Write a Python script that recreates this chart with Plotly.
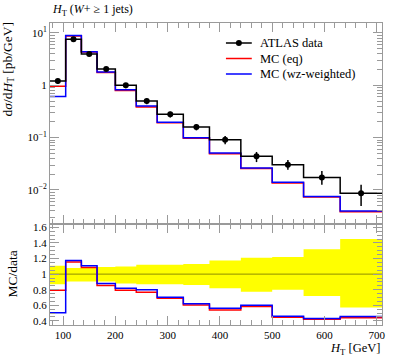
import plotly.graph_objects as go

# ---- data ----
edges = [75, 105, 135, 165, 200, 240, 280, 330, 380, 440, 500, 560, 630, 710]
data = [1.21, 7.6, 3.97, 2.05, 1.0, 0.50, 0.28, 0.16, 0.091, 0.044, 0.0305, 0.0174, 0.0087]
err_up = [0.107, 0.077, 0.09, 0.09, 0.098, 0.12, 0.12, 0.13, 0.175, 0.21, 0.22, 0.32, 0.45]
err_dn = [0.129, 0.095, 0.095, 0.095, 0.12, 0.13, 0.13, 0.14, 0.18, 0.225, 0.20, 0.28, 0.43]
mc_eq = [0.961, 8.77, 4.31, 1.75, 0.794, 0.384, 0.193, 0.0968, 0.0491, 0.0257, 0.01363, 0.00731, 0.00383]
mc_wz = [0.612, 8.93, 4.39, 1.80, 0.82, 0.40, 0.197, 0.0992, 0.051, 0.0264, 0.0140, 0.00748, 0.00396]
legend_names = ["ATLAS data", "MC (eq)", "MC (wz-weighted)"]

y_tickvals = [0.01, 0.1, 1, 10]
y_ticktext = ["10<sup>\u22122</sup>", "10<sup>\u22121</sup>", "1", "10<sup>1</sup>"]
r_tickvals = [0.4, 0.6, 0.8, 1.0, 1.2, 1.4, 1.6]
r_ticktext = ["0.4", "0.6", "0.8", "1", "1.2", "1.4", "1.6"]

centers = [(a + b) / 2 for a, b in zip(edges[:-1], edges[1:])]
def step(v):
    return list(v) + [v[-1]]

ratio_eq = [m / d for m, d in zip(mc_eq, data)]
ratio_wz = [m / d for m, d in zip(mc_wz, data)]
band_hi = [1 + e for e in err_up]
band_lo = [1 - e for e in err_dn]

FONT = "Liberation Serif"
GREY = "#9a9a9a"
RED = "#ff0000"
BLUE = "#0000ff"

# plot-area geometry (px)
W, H = 397, 358
ML, MR, MT, MB = 50, 13, 23, 33
PW, PH = W - ML - MR, H - MT - MB
def px(xp):
    return (xp - ML) / PW
def py(yp):
    return (H - MB - yp) / PH

fig = go.Figure()

# ratio band
fig.add_trace(go.Scatter(x=edges, y=step(band_lo), mode="lines", line=dict(width=0, shape="hv"),
                         xaxis="x2", yaxis="y2", showlegend=False, hoverinfo="skip"))
fig.add_trace(go.Scatter(x=edges, y=step(band_hi), mode="lines", line=dict(width=0, shape="hv"),
                         fill="tonexty", fillcolor="#ffff00",
                         xaxis="x2", yaxis="y2", showlegend=False, hoverinfo="skip"))
fig.add_trace(go.Scatter(x=[edges[0], edges[-1]], y=[1, 1], mode="lines",
                         line=dict(width=1, color="rgba(0,0,0,0.45)"),
                         xaxis="x2", yaxis="y2", showlegend=False, hoverinfo="skip"))
fig.add_trace(go.Scatter(x=edges, y=step(ratio_eq), mode="lines", line=dict(width=1.5, color=RED, shape="hv"),
                         xaxis="x2", yaxis="y2", showlegend=False))
fig.add_trace(go.Scatter(x=edges, y=step(ratio_wz), mode="lines", line=dict(width=1.5, color=BLUE, shape="hv"),
                         xaxis="x2", yaxis="y2", showlegend=False))

# main panel
fig.add_trace(go.Scatter(x=edges, y=step(mc_eq), mode="lines", name=legend_names[1], showlegend=False,
                         line=dict(width=1.5, color=RED, shape="hv")))
fig.add_trace(go.Scatter(x=edges, y=step(mc_wz), mode="lines", name=legend_names[2], showlegend=False,
                         line=dict(width=1.5, color=BLUE, shape="hv")))
fig.add_trace(go.Scatter(x=edges, y=step(data), mode="lines", showlegend=False,
                         line=dict(width=1.5, color="black", shape="hv")))
fig.add_trace(go.Scatter(x=centers, y=data, mode="markers", name=legend_names[0], showlegend=False,
                         marker=dict(size=6, color="black"),
                         error_y=dict(type="data", symmetric=False,
                                      array=[d * e for d, e in zip(data, err_up)],
                                      arrayminus=[d * e for d, e in zip(data, err_dn)],
                                      width=0, thickness=1.5, color="black")))

axis_common = dict(showline=True, linecolor=GREY, linewidth=1, mirror="allticks",
                   ticks="inside", ticklen=9, tickcolor=GREY, tickwidth=1,
                   showgrid=False, zeroline=False,
                   tickfont=dict(family=FONT, size=11, color="black"))

# manual legend (rows at fixed pixel positions)
leg_colors = ["black", RED, BLUE]
leg_rows = [43, 58.5, 74]
shapes = []
annotations = []
for name, col, row in zip(legend_names, leg_colors, leg_rows):
    shapes.append(dict(type="line", xref="paper", yref="paper", x0=px(227), x1=px(253),
                       y0=py(row), y1=py(row), line=dict(color=col, width=1.5)))
    annotations.append(dict(text=name, xref="paper", yref="paper", x=px(259), y=py(row),
                            xanchor="left", yanchor="middle", showarrow=False,
                            font=dict(family=FONT, size=12.5)))
shapes.append(dict(type="circle", xref="paper", yref="paper", xsizemode="pixel", ysizemode="pixel",
                   xanchor=px(240), yanchor=py(leg_rows[0]), x0=-3, x1=3, y0=-3, y1=3,
                   fillcolor="black", line=dict(width=0)))

D = 101 / PH
annotations += [
    dict(text="<i>H</i><sub>T</sub> (<i>W</i>+ \u2265 1 jets)", xref="paper", yref="paper",
         x=0, y=1, xanchor="left", yanchor="bottom", yshift=3, showarrow=False,
         font=dict(family=FONT, size=12)),
    dict(text="d<i>\u03c3</i>/d<i>H</i><sub>T</sub> [pb/GeV]", xref="paper", yref="paper",
         x=0, xshift=-42, y=1, yshift=3, yanchor="top", xanchor="center", textangle=-90, showarrow=False,
         font=dict(family=FONT, size=13.5)),
    dict(text="MC/data", xref="paper", yref="paper",
         x=0, xshift=-38, y=D / 2, yanchor="middle", xanchor="center", textangle=-90, showarrow=False,
         font=dict(family=FONT, size=13.5)),
    dict(text="<i>H</i><sub>T</sub> [GeV]", xref="paper", yref="paper",
         x=1, y=0, xanchor="right", yanchor="top", yshift=-14, showarrow=False,
         font=dict(family=FONT, size=12.5)),
]

fig.update_layout(
    width=W, height=H,
    margin=dict(l=ML, r=MR, t=MT, b=MB),
    paper_bgcolor="white", plot_bgcolor="white",
    font=dict(family=FONT, size=12, color="black"),
    showlegend=False,
    xaxis=dict(axis_common, range=[75, 710], anchor="y", showticklabels=False,
               tick0=0, dtick=100, matches="x2",
               minor=dict(ticks="inside", ticklen=5, tickcolor=GREY, dtick=20, tick0=0)),
    yaxis=dict(axis_common, type="log", range=[-2.65, 1.19], domain=[D, 1], anchor="x",
               tickmode="array", tickvals=y_tickvals, ticktext=y_ticktext,
               minor=dict(ticks="inside", ticklen=5, tickcolor=GREY, tickmode="array",
                          tickvals=[m * 10 ** k for k in range(-3, 2) for m in range(2, 10)])),
    xaxis2=dict(axis_common, range=[75, 710], anchor="y2", tick0=0, dtick=100,
                minor=dict(ticks="inside", ticklen=5, tickcolor=GREY, dtick=20, tick0=0)),
    yaxis2=dict(axis_common, range=[0.347, 1.643], domain=[0, D], anchor="x2",
                tickmode="array", tickvals=r_tickvals, ticktext=r_ticktext,
                minor=dict(ticks="inside", ticklen=5, tickcolor=GREY, dtick=0.05, tick0=0)),
    shapes=shapes,
    annotations=annotations,
)

fig.write_html("out.html", config={"displayModeBar": False},
               post_script="document.body.style.margin='0px';")
